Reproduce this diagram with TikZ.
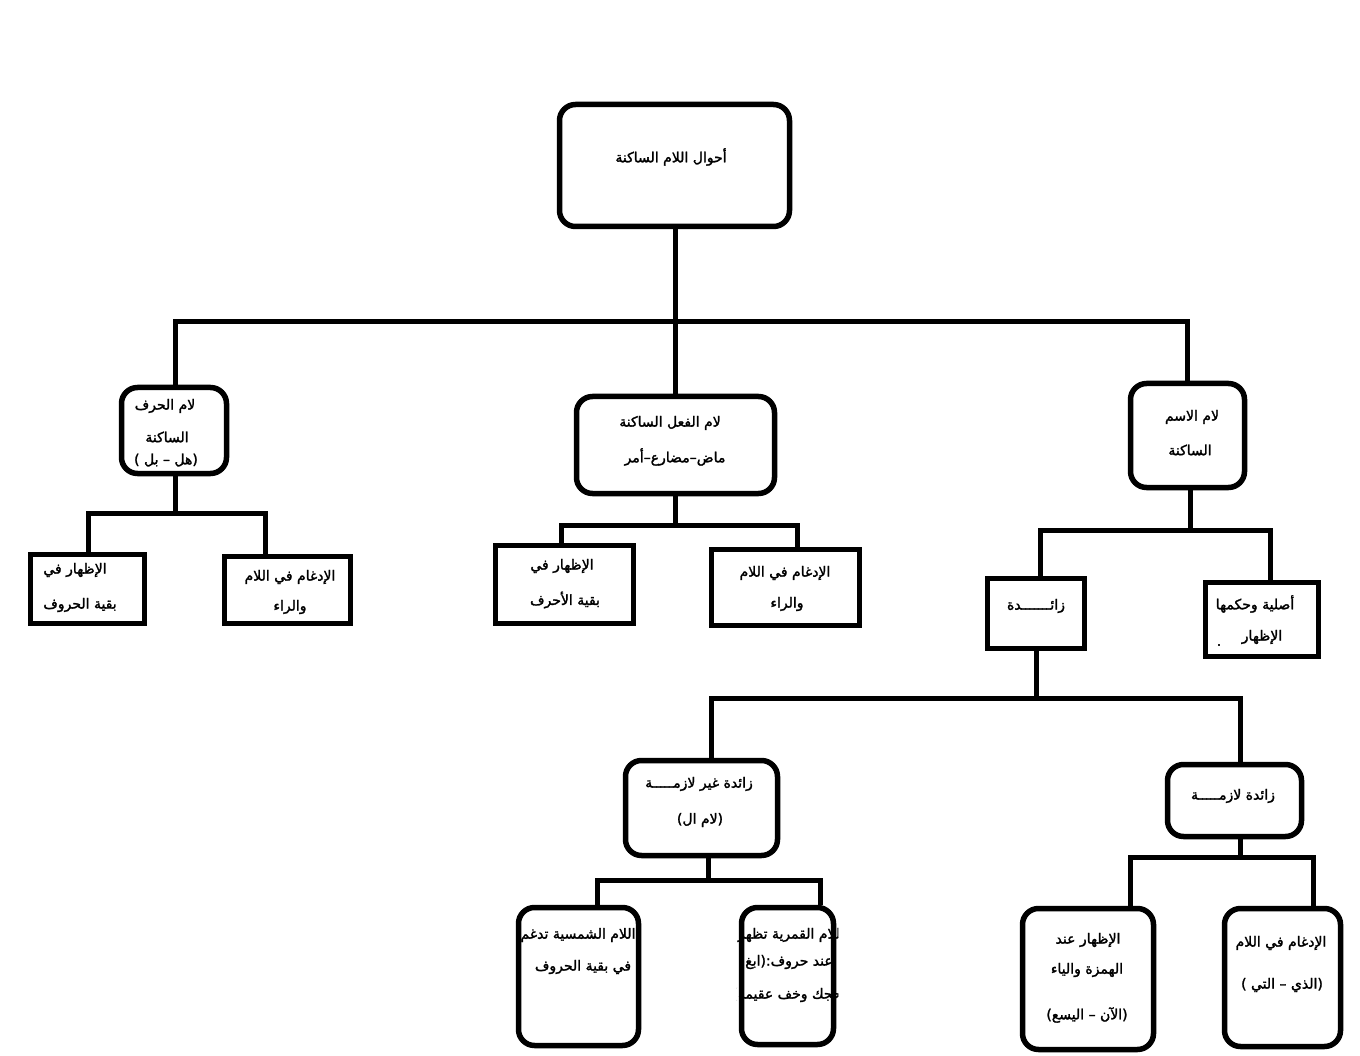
\documentclass[tikz,border=0pt]{standalone}
\usepackage{fontspec}
\TeXXeTstate=1
\newfontfamily\arfont[Script=Arabic,FakeBold=1.8]{DejaVu Sans}
\newcommand{\AR}[1]{{\arfont\beginR #1\endR}}
\begin{document}
\begin{tikzpicture}[x=1pt,y=-1pt,
  rbox/.style={draw,line width=5.5pt,rounded corners=16pt,inner sep=0pt},
  sbox/.style={draw,line width=5.5pt,inner sep=0pt},
  conn/.style={line width=5pt},
  lbl/.style={inner sep=0pt,font=\fontsize{14}{16}\selectfont}]
\useasboundingbox (0,0) rectangle (1360,1056);
\fill[white] (0,0) rectangle (1360,1056);

% boxes
\node[rbox,minimum width=230pt,minimum height=122pt] (top) at (674.5,165.5) {};
\node[rbox,minimum width=105pt,minimum height=86pt] (lh) at (174,430.5) {};
\node[rbox,minimum width=198pt,minimum height=97pt] (lf) at (675.5,445) {};
\node[rbox,minimum width=114pt,minimum height=104pt] (li) at (1187.5,435.5) {};
\node[sbox,minimum width=114pt,minimum height=69pt] (a1) at (87.5,589) {};
\node[sbox,minimum width=126pt,minimum height=67pt] (a2) at (287.5,590) {};
\node[sbox,minimum width=138pt,minimum height=78pt] (b1) at (564.5,584.5) {};
\node[sbox,minimum width=148pt,minimum height=76pt] (b2) at (785.5,587.5) {};
\node[sbox,minimum width=97pt,minimum height=70pt] (z) at (1036,613.5) {};
\node[sbox,minimum width=113pt,minimum height=74pt] (asl) at (1262,619.5) {};
\node[rbox,minimum width=152pt,minimum height=95pt] (g) at (701.5,808) {};
\node[rbox,minimum width=134pt,minimum height=72pt] (l) at (1234.5,800.5) {};
\node[rbox,minimum width=120pt,minimum height=138pt] (s) at (578.5,976.5) {};
\node[rbox,minimum width=92pt,minimum height=137pt] (q) at (787.5,976) {};
\node[rbox,minimum width=131pt,minimum height=141pt] (h) at (1088,979) {};
\node[rbox,minimum width=116pt,minimum height=138pt] (d) at (1282.5,977.5) {};

% junction coordinates
\coordinate (j0) at (675,322);
\coordinate (j0l) at (175,322);
\coordinate (j0r) at (1187,322);
\coordinate (j1) at (175,513);
\coordinate (j1l) at (88,513);
\coordinate (j1r) at (265,513);
\coordinate (j2) at (675,525);
\coordinate (j2l) at (561,525);
\coordinate (j2r) at (797,525);
\coordinate (j3) at (1190,530);
\coordinate (j3l) at (1040,530);
\coordinate (j3r) at (1270,530);
\coordinate (j4) at (1036,698);
\coordinate (j4l) at (711,698);
\coordinate (j4r) at (1240,698);
\coordinate (j5) at (708,880);
\coordinate (j5l) at (597,880);
\coordinate (j5r) at (820,880);
\coordinate (j6) at (1240,857);
\coordinate (j6l) at (1130,857);
\coordinate (j6r) at (1313,857);

% connectors
\draw[conn] (top.south -| j0) -- (j0);
\draw[conn,line cap=rect] (j0l) -- (j0r);
\draw[conn] (j0l) -- (lh.north -| j0l);
\draw[conn] (j0) -- (lf.north -| j0);
\draw[conn] (j0r) -- (li.north -| j0r);

\draw[conn] (lh.south -| j1) -- (j1);
\draw[conn,line cap=rect] (j1l) -- (j1r);
\draw[conn] (j1l) -- (a1.north -| j1l);
\draw[conn] (j1r) -- (a2.north -| j1r);

\draw[conn] (lf.south -| j2) -- (j2);
\draw[conn,line cap=rect] (j2l) -- (j2r);
\draw[conn] (j2l) -- (b1.north -| j2l);
\draw[conn] (j2r) -- (b2.north -| j2r);

\draw[conn] (li.south -| j3) -- (j3);
\draw[conn,line cap=rect] (j3l) -- (j3r);
\draw[conn] (j3l) -- (z.north -| j3l);
\draw[conn] (j3r) -- (asl.north -| j3r);

\draw[conn] (z.south -| j4) -- (j4);
\draw[conn,line cap=rect] (j4l) -- (j4r);
\draw[conn] (j4l) -- (g.north -| j4l);
\draw[conn] (j4r) -- (l.north -| j4r);

\draw[conn] (g.south -| j5) -- (j5);
\draw[conn,line cap=rect] (j5l) -- (j5r);
\draw[conn] (j5l) -- (s.north -| j5l);
\draw[conn] (j5r) -- (q.north -| j5r);

\draw[conn] (l.south -| j6) -- (j6);
\draw[conn,line cap=rect] (j6l) -- (j6r);
\draw[conn] (j6l) -- (h.north -| j6l);
\draw[conn] (j6r) -- (d.north -| j6r);

% texts
\node[lbl] (t0) at (671,157) {\AR{أحوال اللام الساكنة}};

\node[lbl] (t1a) at (165,406) {\AR{لام الحرف}};
\node[lbl] (t1b) at (167,437) {\AR{الساكنة}};
\node[lbl] (t1c) at (166,460) {\AR{(هل – بل )}};

\node[lbl] (t2a) at (670,423) {\AR{لام الفعل الساكنة}};
\node[lbl] (t2b) at (675,457) {\AR{ماض–مضارع–أمر}};

\node[lbl] (t3a) at (1192,417) {\AR{لام الاسم}};
\node[lbl] (t3b) at (1190,450) {\AR{الساكنة}};

\node[lbl] (t4a) at (75,570) {\AR{الإظهار في}};
\node[lbl] (t4b) at (80,605) {\AR{بقية الحروف}};
\node[lbl] (t5a) at (290,577) {\AR{الإدغام في اللام}};
\node[lbl] (t5b) at (290,607) {\AR{والراء}};

\node[lbl] (t6a) at (562,566) {\AR{الإظهار في}};
\node[lbl] (t6b) at (565,600) {\AR{بقية الأحرف}};
\node[lbl] (t7a) at (785,573) {\AR{الإدغام في اللام}};
\node[lbl] (t7b) at (787,604) {\AR{والراء}};

\node[lbl] (t8) at (1036,606) {\AR{زائـــــــدة}};
\node[lbl] (t9a) at (1255,604) {\AR{أصلية وحكمها}};
\node[lbl] (t9b) at (1262,637) {\AR{الإظهار}};
\node[lbl] (t9c) at (1219,645) {\AR{.}};

\node[lbl] (t10a) at (699,784) {\AR{زائدة غير لازمـــــة}};
\node[lbl] (t10b) at (700,820) {\AR{(لام ال)}};
\node[lbl] (t11) at (1233,796) {\AR{زائدة لازمـــــة}};

\node[lbl] (t12a) at (578,935) {\AR{اللام الشمسية تدغم}};
\node[lbl] (t12b) at (583,967) {\AR{في بقية الحروف}};

\begin{scope}
\clip ([xshift=-2pt]q.south west) rectangle ([xshift=2pt]q.north east);
\node[lbl] (t13a) at (791,935) {\AR{اللام القمرية تظهر}};
\node[lbl] (t13b) at (789,962) {\AR{عند حروف:(ابغ}};
\node[lbl] (t13c) at (787,995) {\AR{حجك وخف عقيمه)}};
\end{scope}

\node[lbl] (t14a) at (1088,940) {\AR{الإظهار عند}};
\node[lbl] (t14b) at (1087,970) {\AR{الهمزة والياء}};
\node[lbl] (t14c) at (1087,1015) {\AR{(الآن – اليسع)}};

\node[lbl] (t15a) at (1281,943) {\AR{الإدغام في اللام}};
\node[lbl] (t15b) at (1282,985) {\AR{(الذي – التي )}};
\end{tikzpicture}
\end{document}
